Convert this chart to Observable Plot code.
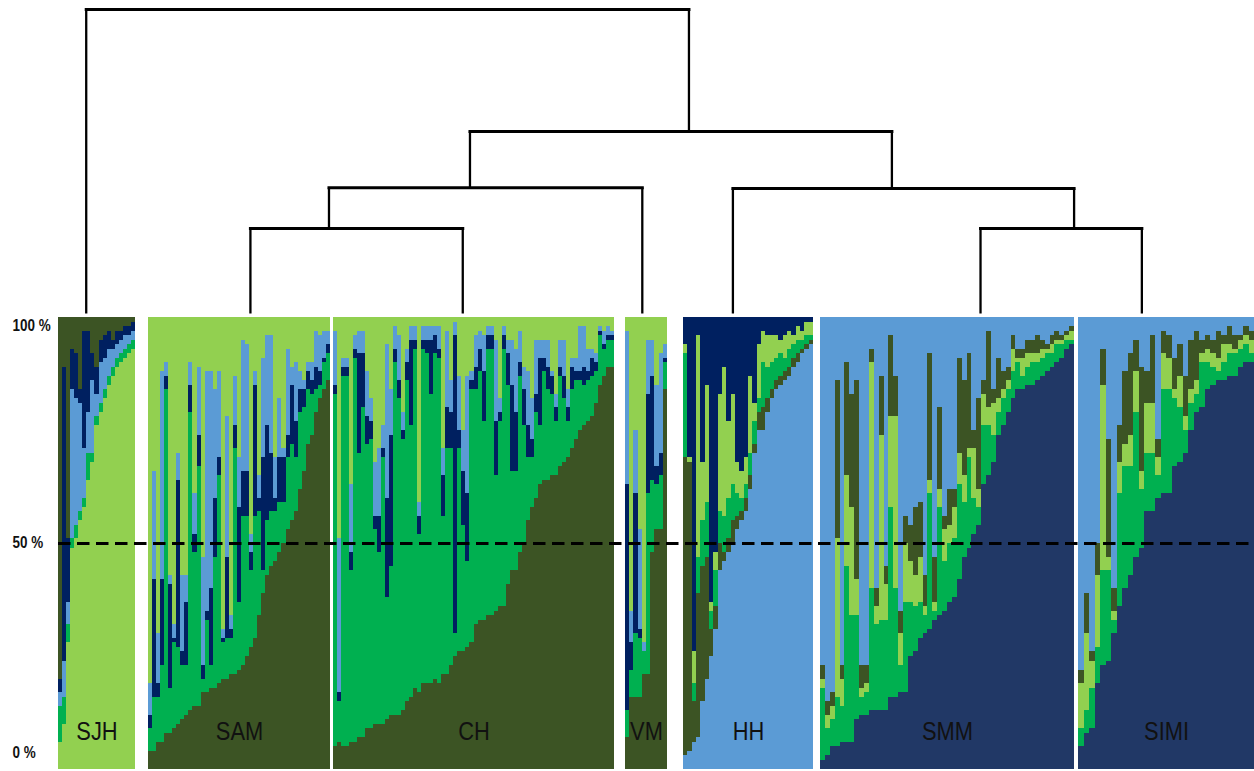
<!DOCTYPE html>
<html><head><meta charset="utf-8">
<script src="https://cdn.jsdelivr.net/npm/d3@7"></script>
<script src="https://cdn.jsdelivr.net/npm/@observablehq/plot@0.6"></script>
<style>
html,body{margin:0;padding:0;background:#fff;}
#chart{width:1254px;height:771px;overflow:hidden;}
#chart svg{display:block;}
</style></head><body><div id="chart"></div>
<script>
// ---------------- DATA ----------------
const populations = ["SJH","SAM","CH","VM","HH","SMM","SIMI"];
const clusters = ["K1","K2","K3","K4","K5","K6"];
const clusterColors = ["#3c5424","#00b050","#92d050","#5b9bd5","#002060","#213866"];
// cluster order of each population's stack, bottom -> top
const stackOrder = [
  ["K3","K2","K4","K5","K1"],
  ["K1","K2","K5","K4","K3"],
  ["K1","K2","K5","K4","K3"],
  ["K1","K2","K5","K4","K3"],
  ["K4","K1","K2","K3","K5"],
  ["K6","K2","K3","K1","K4"],
  ["K6","K2","K3","K1","K4"]
];
// membership (%) per individual, in the population's stack order
const qSJH = [[6,8,3,3,80],[10,6,8,65,11],[28,4,5,14,49],[49,2,33,9,7],[51,3,28,10,8],[55,2,24,3,16],[58,2,11,26,3],[64,6,9,18,3],[68,2,16,6,8],[76,2,5,6,11],[79,2,9,5,5],[82,2,7,5,4],[85,2,6,4,3],[87,2,4,2,5],[89,2,3,3,3],[90,2,3,2,3],[91,2,3,2,2],[92,2,2,2,2],[93,2,2,2,1]];
const qSAM = [[4,5,3,7,81],[4,12,26,24,34],[6,10,3,11,70],[6,17,19,46,12],[8,76,3,3,10],[8,10,23,2,57],[9,19,1,3,68],[10,17,37,6,30],[11,12,3,17,57],[12,11,14,6,57],[13,66,6,5,10],[14,34,4,9,39],[14,53,7,15,11],[17,3,3,24,53],[17,16,2,53,12],[18,5,17,48,12],[18,29,13,24,16],[19,46,4,19,12],[20,8,1,2,69],[20,9,18,31,22],[21,8,2,3,66],[21,50,5,11,13],[22,15,21,11,31],[23,33,10,29,5],[25,31,10,28,6],[27,17,4,4,48],[29,27,29,3,12],[34,23,3,5,35],[39,5,25,22,9],[43,12,21,20,4],[45,12,13,26,4],[46,11,3,9,31],[48,11,10,13,18],[50,9,10,2,29],[53,16,5,19,7],[55,17,13,4,11],[57,12,8,13,10],[62,17,5,4,12],[66,14,4,2,14],[72,12,4,2,10],[74,9,3,4,10],[79,5,5,8,3],[82,3,3,8,4],[84,6,1,6,3],[86,6,2,3,3]];
const qCH = [[5,78,2,12,3],[6,9,2,34,49],[5,82,2,2,9],[5,82,2,2,9],[6,38,4,15,37],[6,85,2,3,4],[7,63,22,5,3],[7,73,12,5,3],[9,63,6,10,12],[9,64,4,5,18],[10,43,3,12,32],[10,38,8,15,29],[10,59,2,5,24],[11,27,22,34,6],[12,33,29,10,16],[12,78,3,5,2],[12,70,4,10,4],[13,60,2,4,21],[15,71,4,3,7],[16,60,19,3,2],[18,75,2,3,2],[17,35,4,3,41],[19,74,2,3,2],[19,73,3,3,2],[19,64,12,3,2],[20,72,4,2,2],[19,72,2,5,2],[21,35,9,6,29],[21,50,9,17,3],[23,48,8,7,14],[25,5,66,3,1],[26,45,4,12,13],[26,28,12,9,25],[27,19,15,26,13],[28,56,2,2,12],[32,52,5,7,4],[33,55,5,4,3],[33,44,11,8,4],[34,59,3,2,2],[34,59,3,2,2],[35,30,12,18,5],[36,41,2,3,18],[36,57,3,2,2],[41,44,7,3,5],[44,22,19,10,5],[44,22,13,14,7],[48,39,3,7,3],[50,26,8,5,11],[55,14,7,12,12],[58,11,4,9,18],[60,19,4,12,5],[63,13,15,4,5],[64,24,3,4,5],[64,20,5,6,5],[65,18,4,1,12],[65,12,3,3,17],[67,20,2,6,5],[68,14,5,8,5],[69,8,3,4,16],[71,13,5,2,9],[73,13,2,3,9],[75,11,2,10,2],[76,9,4,9,2],[77,9,2,5,7],[78,9,4,2,7],[81,7,2,2,8],[85,11,1,1,2],[87,6,1,3,3],[89,6,1,2,2],[89,6,1,1,3]];
const qVM = [[7,6,50,34,3],[16,6,6,7,65],[16,14,31,14,25],[16,13,2,22,47],[21,5,0,2,72],[21,40,22,12,5],[48,16,23,8,5],[53,10,4,18,15],[53,12,5,22,8],[84,6,1,3,6]];
const qHH = [[3,66,23,2,6],[4,64,0,1,31],[6,9,4,7,74],[7,32,8,49,4],[15,30,10,13,32],[20,27,12,26,15],[25,6,4,2,63],[31,5,8,4,52],[44,6,7,26,17],[46,2,8,33,11],[48,3,9,17,23],[50,5,8,20,17],[53,3,5,7,32],[55,2,3,6,34],[57,3,3,6,31],[62,3,5,17,13],[70,2,5,4,19],[75,4,3,12,6],[75,5,10,7,3],[79,3,7,7,4],[82,2,6,6,4],[84,2,5,5,4],[85,2,5,3,5],[86,2,3,5,4],[87,2,4,4,3],[89,2,3,2,4],[90,2,3,3,2],[92,1,2,2,3],[93,1,2,3,1],[94,1,1,3,1]];
const qSMM = [[2,16,2,3,77],[3,6,3,3,85],[5,6,3,3,83],[5,11,35,35,14],[6,8,6,3,77],[6,39,20,25,10],[6,28,24,25,17],[11,23,8,44,14],[12,4,2,5,77],[12,5,2,4,77],[13,27,50,3,7],[13,19,4,4,60],[13,20,41,13,13],[13,20,8,4,55],[16,42,20,18,4],[16,24,38,9,13],[17,6,7,5,65],[17,20,13,6,44],[25,12,9,8,46],[26,10,7,15,42],[29,8,10,12,41],[30,4,2,7,57],[31,30,3,28,8],[33,2,2,10,53],[34,24,4,18,20],[35,11,7,3,44],[37,13,4,8,38],[38,13,7,4,38],[42,21,7,21,9],[47,12,6,21,14],[49,20,2,21,8],[52,8,11,4,25],[54,4,4,20,18],[63,13,7,3,14],[65,11,4,17,3],[68,6,7,3,16],[74,5,3,9,9],[76,6,2,4,12],[79,5,2,3,11],[82,6,5,3,4],[84,6,1,2,7],[84,3,4,2,7],[85,4,3,3,5],[85,5,2,3,5],[86,4,2,4,4],[87,4,2,2,5],[88,4,1,1,6],[89,3,2,2,4],[90,4,1,2,3],[91,3,1,1,4],[93,2,1,1,3],[94,1,2,1,2]];
const qSIMI = [[5,4,10,3,78],[8,5,17,9,61],[9,9,6,2,74],[19,8,16,7,50],[23,21,41,8,7],[24,20,3,26,27],[30,3,2,5,60],[36,25,7,8,24],[40,27,5,16,12],[43,24,7,18,8],[47,32,9,7,5],[49,13,4,23,11],[57,13,11,7,12],[57,13,11,15,4],[60,5,4,4,27],[61,23,8,5,3],[61,23,7,5,4],[67,15,2,7,9],[68,12,7,7,6],[70,5,3,9,13],[75,6,3,11,5],[79,4,3,11,3],[80,10,2,3,5],[84,6,3,3,4],[85,4,3,3,5],[86,2,3,6,3],[86,4,4,2,4],[87,5,2,4,2],[87,5,1,3,4],[89,4,2,1,4],[90,4,2,2,2],[90,2,3,2,3]];
const qTables = [qSJH,qSAM,qCH,qVM,qHH,qSMM,qSIMI];
// dendrogram merges (relative distance)
const mergeLeft   = ["SAM","SAM+CH","SMM","HH","SAM+CH+VM","SJH"];
const mergeRight  = ["CH","VM","SIMI","SMM+SIMI","HH+SMM+SIMI","SAM+CH+VM+HH+SMM+SIMI"];
const mergeHeight = [0.28,0.414,0.28,0.411,0.599,1.0];
const yTicks = [0,50,100];

// ---------------- LAYOUT ----------------
const panelWidth = [77,182,281,42,130,254,176];
const panelGap = [13,3,11,16,7,4];
const leafFrac = [0.36,0.56,0.46,0.40,0.38,0.63,0.36];
const mergeSplit = [0.37,0.45,0.58,0.466,0.519,0.5]; // where the parent stem sits between its two children
const tickDy = [-17,-1,8];
const W = 1254;
const xDomain = [0, d3.sum(panelWidth) + d3.sum(panelGap)];

const panels = [];
let start = 0;
populations.forEach((p,k) => {
  panels.push({pop:p, x1:start, x2:start + panelWidth[k]});
  start += panelWidth[k] + (panelGap[k] || 0);
});

const rows = [];
populations.forEach((pop,k) => {
  const q = qTables[k], n = q.length, w = panelWidth[k] / n, p0 = panels[k].x1;
  q.forEach((vals,i) => {
    const total = d3.sum(vals);
    let acc = 0;
    vals.forEach((v,j) => {
      const share = v / total * 100;
      rows.push({pop, ind:i, cluster:stackOrder[k][j], x1:p0 + i*w, x2:p0 + (i+1)*w, y1:acc, y2:acc + share});
      acc += share;
    });
  });
});

// dendrogram segments
const nodes = {};
populations.forEach((p,k) => { nodes[p] = {x: panels[k].x1 + leafFrac[k]*panelWidth[k], h: 0}; });
const vsegs = [], hsegs = [];
mergeLeft.forEach((l,m) => {
  const r = mergeRight[m], h = mergeHeight[m], L = nodes[l], R = nodes[r];
  vsegs.push({x1:L.x, y1:L.h, x2:L.x, y2:h});
  vsegs.push({x1:R.x, y1:R.h, x2:R.x, y2:h});
  hsegs.push({x1:L.x, y1:h, x2:R.x, y2:h});
  nodes[l + "+" + r] = {x: L.x + mergeSplit[m]*(R.x - L.x), h};
});

const font = "'Liberation Sans Narrow','Arial Narrow','Liberation Sans',Arial,sans-serif";

const tree = Plot.plot({
  width: W, height: 317, marginLeft: 58, marginRight: 0, marginTop: 9, marginBottom: 4,
  x: {domain: xDomain, axis: null},
  y: {domain: [0,1], axis: null},
  style: {background: "transparent", overflow: "visible"},
  marks: [
    Plot.link(vsegs, {x1:"x1", y1:"y1", x2:"x2", y2:"y2", stroke:"#000", strokeWidth:2.3}),
    Plot.link(hsegs, {x1:"x1", y1:"y1", x2:"x2", y2:"y2", stroke:"#000", strokeWidth:3, strokeLinecap:"square"})
  ]
});

const bars = Plot.plot({
  width: W, height: 454, marginLeft: 58, marginRight: 0, marginTop: 0, marginBottom: 2,
  x: {domain: xDomain, axis: null},
  y: {domain: [0,100], axis: null},
  color: {domain: clusters, range: clusterColors},
  style: {background: "transparent", overflow: "visible"},
  marks: [
    Plot.rect(rows, {x1:"x1", x2:"x2", y1:"y1", y2:"y2", fill:"cluster", shapeRendering:"crispEdges"}),
    Plot.ruleY([50], {stroke:"#000", strokeWidth:3, strokeDasharray:"12.5,6.5"}),
    Plot.text(panels, {x: d => (d.x1 + d.x2)/2, frameAnchor:"bottom", dy:-38, text:"pop",
      fontSize: 26, fontFamily: font, fill:"#111", lineAnchor:"middle", className:"poplab"}),
    ...yTicks.map((t,k) => Plot.text([t], {y: d => d, text: d => d + " %", frameAnchor:"left", dx:-46,
      dy: tickDy[k], textAnchor:"start", fontSize:16, fontWeight:"bold", fontFamily: font, fill:"#111", className:"ticklab"}))
  ]
});

const chart = document.getElementById("chart");
chart.appendChild(tree);
chart.appendChild(bars);
// narrow the lettering to the condensed face of the original
bars.querySelectorAll("text").forEach(t => {
  const w = t.getComputedTextLength();
  if (w > 0) {
    t.setAttribute("textLength", (w * 0.84).toFixed(1));
    t.setAttribute("lengthAdjust", "spacingAndGlyphs");
  }
});
</script>
</body></html>
